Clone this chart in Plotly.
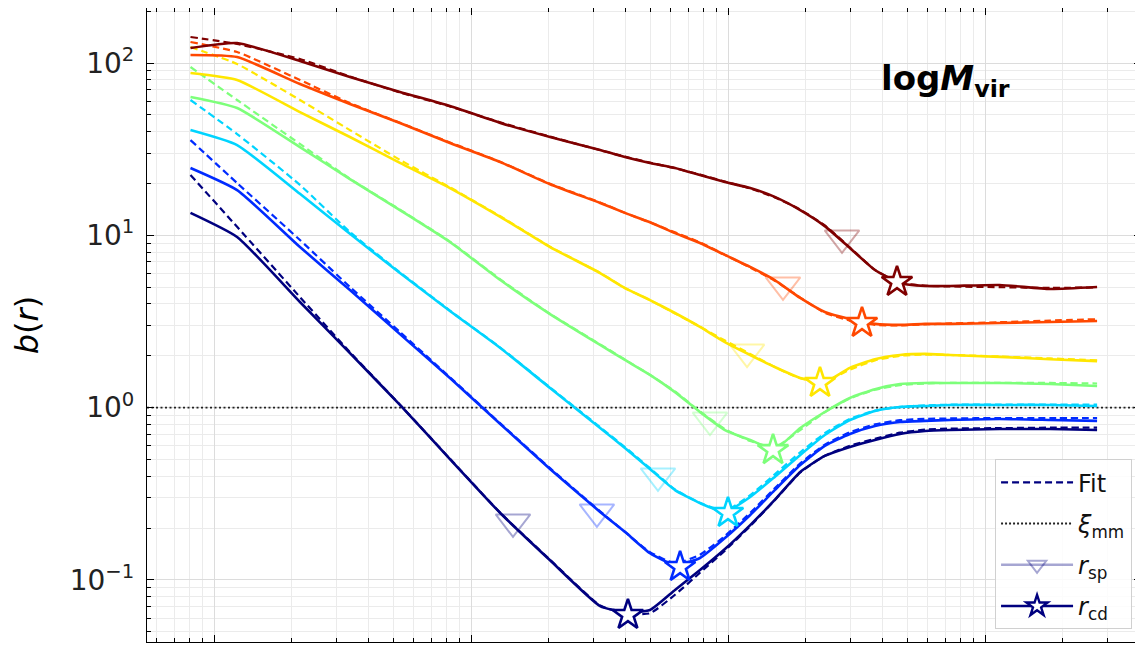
import plotly.graph_objects as go

# radial bins r (arbitrary units, log-spaced)
R = [0.0081, 0.0123, 0.0216, 0.0338, 0.0529, 0.0828, 0.130, 0.203, 0.318, 0.397,
     0.497, 0.622, 0.778, 0.973, 1.22, 1.52, 1.91, 2.38, 2.98, 3.73,
     4.67, 5.84, 7.31, 11.4, 17.9, 27.3]

# measured b(r), lowest mass bin first
B_NAVY = [13.5, 9.78, 4.10, 2.07, 1.036, 0.503, 0.2445, 0.130, 0.0705, 0.0651,
          0.0669, 0.0874, 0.114, 0.151, 0.208, 0.291, 0.423, 0.524, 0.591, 0.649,
          0.703, 0.731, 0.741, 0.751, 0.751, 0.741]
B_BLUE = [24.6, 18.3, 8.55, 4.81, 2.67, 1.485, 0.803, 0.440, 0.248, 0.190,
          0.143, 0.122, 0.134, 0.175, 0.238, 0.332, 0.464, 0.599, 0.703, 0.782,
          0.825, 0.837, 0.848, 0.859, 0.848, 0.837]
B_CYAN = [40.8, 33.4, 17.4, 10.2, 6.04, 3.64, 2.22, 1.30, 0.761, 0.583,
          0.440, 0.332, 0.279, 0.248, 0.303, 0.396, 0.531, 0.693, 0.847, 0.956,
          1.008, 1.022, 1.036, 1.036, 1.036, 1.022]
B_GREEN = [63.5, 54.8, 32.5, 21.2, 14.0, 9.14, 5.50, 3.49, 2.31, 1.89,
           1.55, 1.23, 0.943, 0.741, 0.649, 0.575, 0.761, 0.943, 1.137, 1.28,
           1.37, 1.39, 1.39, 1.39, 1.37, 1.335]
B_YELLOW = [87.5, 79.7, 51.9, 37.2, 26.3, 18.8, 12.8, 8.55, 6.04, 4.94,
            4.21, 3.54, 2.94, 2.40, 2.02, 1.72, 1.485, 1.407, 1.70, 1.91,
            2.02, 2.05, 2.02, 1.97, 1.91, 1.86]
B_ORANGE = [111.3, 108.3, 75.5, 57.8, 44.9, 34.3, 26.6, 19.8, 15.4, 13.5,
            11.9, 10.3, 9.02, 7.69, 6.55, 5.50, 4.33, 3.59, 3.27, 3.06,
            3.02, 3.06, 3.06, 3.10, 3.14, 3.18]
B_DARKRED = [122.2, 130.6, 102.7, 82.9, 67.9, 56.3, 44.9, 37.2, 31.3, 28.5,
             26.3, 24.6, 22.4, 20.4, 18.8, 16.7, 14.0, 11.3, 8.44, 6.29,
             5.29, 5.08, 5.08, 5.15, 4.88, 5.01]

# fitted b(r)
F_NAVY = [22.4, 11.2, 4.38, 2.10, 1.04, 0.505, 0.245, 0.131, 0.071, 0.064,
          0.064, 0.082, 0.11, 0.148, 0.205, 0.29, 0.42, 0.525, 0.6, 0.66,
          0.715, 0.745, 0.755, 0.76, 0.765, 0.765]
F_BLUE = [35.7, 20.1, 9.39, 5.01, 2.75, 1.5, 0.81, 0.445, 0.25, 0.19,
          0.145, 0.125, 0.14, 0.18, 0.245, 0.34, 0.475, 0.61, 0.72, 0.8,
          0.845, 0.86, 0.865, 0.87, 0.87, 0.87]
F_CYAN = [61.0, 38.7, 19.6, 10.45, 6.1, 3.66, 2.23, 1.31, 0.77, 0.59,
          0.445, 0.335, 0.28, 0.252, 0.31, 0.41, 0.55, 0.71, 0.86, 0.96,
          1.01, 1.03, 1.04, 1.04, 1.04, 1.04]
F_GREEN = [94.8, 61.0, 33.9, 21.3, 14.1, 9.2, 5.55, 3.5, 2.33, 1.9,
           1.55, 1.24, 0.95, 0.75, 0.64, 0.59, 0.74, 0.94, 1.13, 1.27,
           1.35, 1.38, 1.39, 1.39, 1.39, 1.38]
F_YELLOW = [123.8, 98.7, 61.0, 40.8, 27.4, 19.0, 12.9, 8.6, 6.05, 4.95,
            4.2, 3.52, 2.95, 2.45, 2.05, 1.72, 1.48, 1.42, 1.66, 1.88,
            2.0, 2.03, 2.02, 1.98, 1.93, 1.88]
F_ORANGE = [132.4, 115.8, 79.7, 58.5, 45.0, 34.6, 26.7, 19.9, 15.5, 13.5,
            11.9, 10.4, 9.1, 7.7, 6.5, 5.45, 4.35, 3.55, 3.2, 3.02,
            3.0, 3.04, 3.08, 3.13, 3.2, 3.26]
F_DARKRED = [141.6, 128.9, 105.5, 83.5, 67.5, 56.0, 45.2, 37.4, 31.2, 28.6,
             26.4, 24.5, 22.5, 20.5, 18.7, 16.6, 14.1, 11.4, 8.5, 6.3,
             5.3, 5.1, 5.05, 5.0, 4.95, 4.98]

# splashback (r_sp) and characteristic depletion (r_cd) radii, lowest mass first
RSP_R = [0.1457, 0.309, 0.534, 0.851, 1.186, 1.637, 2.777]
RSP_B = [0.217, 0.248, 0.401, 0.847, 2.10, 5.15, 9.65]
RCD_R = [0.408, 0.651, 1.0, 1.497, 2.280, 3.322, 4.546]
RCD_B = [0.0626, 0.1188, 0.2445, 0.567, 1.39, 3.10, 5.36]

XI_MM_LEVEL = 1.0
X_RANGE_LOG = [-2.2607, 1.6070]
Y_RANGE_LOG = [-1.3604, 2.3192]
Y_TICKS = [0.1, 1, 10, 100]
Y_TICKTEXT = ["10<sup>\u22121</sup>", "10<sup>0</sup>", "10<sup>1</sup>", "10<sup>2</sup>"]

COLORS = ["#00007f", "#002bff", "#00d4ff", "#7dff7a", "#ffe600", "#ff4800", "#7f0000"]
TRI_RGBA = ["rgba(0,0,127,0.35)", "rgba(0,43,255,0.35)", "rgba(0,212,255,0.35)",
            "rgba(125,255,122,0.35)", "rgba(255,230,0,0.35)", "rgba(255,72,0,0.35)",
            "rgba(127,0,0,0.35)"]

MEAS = [B_NAVY, B_BLUE, B_CYAN, B_GREEN, B_YELLOW, B_ORANGE, B_DARKRED]
FITS = [F_NAVY, F_BLUE, F_CYAN, F_GREEN, F_YELLOW, F_ORANGE, F_DARKRED]

FONT = "DejaVu Sans"

fig = go.Figure()

# xi_mm reference level
fig.add_trace(go.Scatter(x=[10 ** X_RANGE_LOG[0], 10 ** X_RANGE_LOG[1]],
                         y=[XI_MM_LEVEL, XI_MM_LEVEL], mode="lines",
                         line=dict(color="#222", width=1.6, dash="2px,2.5px"),
                         showlegend=False, hoverinfo="skip"))

for i in range(len(MEAS)):
    fig.add_trace(go.Scatter(x=R, y=MEAS[i], mode="lines",
                             line=dict(color=COLORS[i], width=2.6, shape="spline", smoothing=0.5),
                             showlegend=False))
    fig.add_trace(go.Scatter(x=R, y=FITS[i], mode="lines",
                             line=dict(color=COLORS[i], width=2.2, dash="7px,4px",
                                       shape="spline", smoothing=0.5),
                             showlegend=False))

for i in range(len(MEAS)):
    fig.add_trace(go.Scatter(x=[RSP_R[i]], y=[RSP_B[i]], mode="markers",
                             marker=dict(symbol="triangle-down-open", size=30,
                                         color=TRI_RGBA[i], line=dict(width=2, color=TRI_RGBA[i])),
                             showlegend=False))
    fig.add_trace(go.Scatter(x=[RCD_R[i]], y=[RCD_B[i]], mode="markers",
                             marker=dict(symbol="star", size=23, color="white",
                                         line=dict(width=2.6, color=COLORS[i])),
                             showlegend=False))

# legend entries
fig.add_trace(go.Scatter(x=[None], y=[None], mode="lines", name="Fit", legendgroup="a",
                         line=dict(color="#00007f", width=2.2, dash="7px,4px")))
fig.add_trace(go.Scatter(x=[None], y=[None], mode="lines", name="<i>\u03be</i><sub>mm</sub>",
                         legendgroup="b",
                         line=dict(color="#222", width=2, dash="2px,2px")))
fig.add_trace(go.Scatter(x=[None], y=[None], mode="lines+markers", name="<i>r</i><sub>sp</sub>",
                         legendgroup="c",
                         line=dict(color="rgba(0,0,127,0.35)", width=2.6),
                         marker=dict(symbol="triangle-down-open", size=24,
                                     color="rgba(0,0,127,0.35)", line=dict(width=2))))
fig.add_trace(go.Scatter(x=[None], y=[None], mode="lines+markers", name="<i>r</i><sub>cd</sub>",
                         legendgroup="d",
                         line=dict(color="#00007f", width=2.6),
                         marker=dict(symbol="star", size=20, color="white",
                                     line=dict(width=2.4, color="#00007f"))))

fig.add_annotation(text="<b>log<i>M</i><sub>vir</sub></b>", xref="paper", yref="paper",
                   x=0.736, y=0.925, xanchor="left", yanchor="top", showarrow=False,
                   font=dict(family=FONT, size=34, color="black"))

axis_common = dict(showline=True, linecolor="black", linewidth=1.3, mirror="allticks",
                   ticks="inside", ticklen=7, tickwidth=1.2, tickcolor="black",
                   showgrid=True, gridcolor="#dcdcdc", gridwidth=1.2, zeroline=False)

fig.update_xaxes(type="log", range=X_RANGE_LOG, dtick=1, showticklabels=False,
                 minor=dict(dtick="D1", ticks="inside", ticklen=4, tickcolor="black",
                            showgrid=True, gridcolor="#ebebeb", gridwidth=1.2),
                 **axis_common)
fig.update_yaxes(type="log", range=Y_RANGE_LOG, tickvals=Y_TICKS, ticktext=Y_TICKTEXT,
                 tickfont=dict(family=FONT, size=28, color="#222"),
                 ticklabelstandoff=6,
                 minor=dict(dtick="D1", ticks="inside", ticklen=4, tickcolor="black",
                            showgrid=True, gridcolor="#ebebeb", gridwidth=1.2),
                 title=dict(text="<i>b</i>(<i>r</i>)", standoff=24,
                            font=dict(family=FONT, size=32, color="black")),
                 **axis_common)

# the page body adds an 8px offset, so the figure is 8px smaller and margins shifted
fig.update_layout(width=1135, height=637, margin=dict(l=139, r=2, t=0, b=3, autoexpand=False),
                  plot_bgcolor="white", paper_bgcolor="white",
                  font=dict(family=FONT),
                  legend=dict(x=0.991, y=0.02, xanchor="right", yanchor="bottom",
                              traceorder="grouped", tracegroupgap=7,
                              bgcolor="rgba(255,255,255,0.85)", bordercolor="#d0d0d0",
                              borderwidth=1, font=dict(family=FONT, size=24, color="#111"),
                              itemwidth=72))

fig.write_html("out.html")
